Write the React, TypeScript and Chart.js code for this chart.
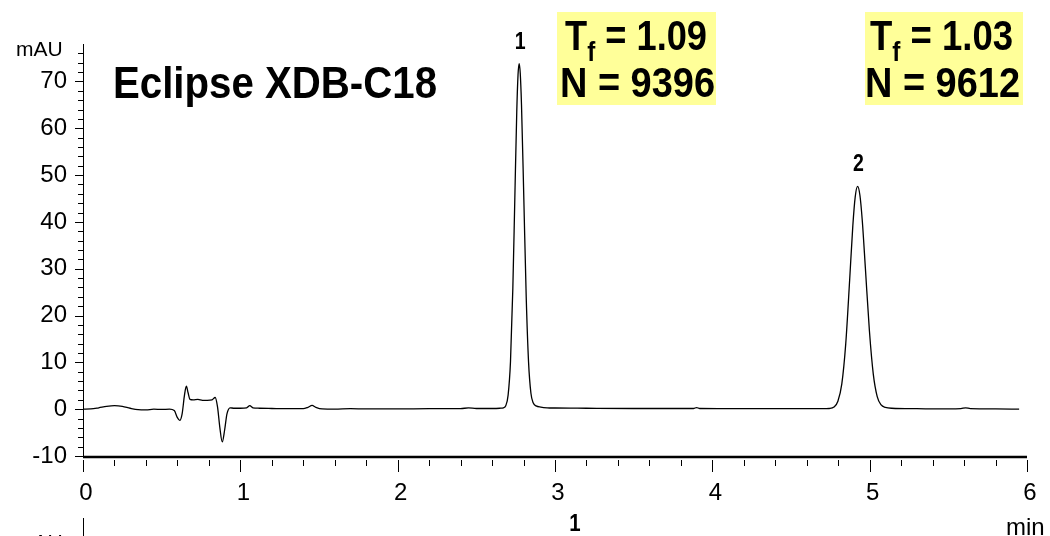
import React, { useEffect, useRef } from "react";
import { Chart, registerables } from "chart.js";

Chart.register(...registerables);

// ---- Data ----
const times: number[] = [
  0.0, 0.05, 0.1, 0.15, 0.2, 0.25, 0.3, 0.35, 0.4, 0.45, 0.5, 0.55,
  0.58, 0.6, 0.615, 0.63, 0.645, 0.657, 0.668, 0.68, 0.7, 0.73, 0.76, 0.79, 0.82, 0.84,
  0.855, 0.87, 0.885, 0.9, 0.915, 0.935, 0.96, 1.0, 1.04, 1.06, 1.08, 1.12, 1.2, 1.3, 1.4,
  1.43, 1.456, 1.48, 1.52, 1.6, 1.7, 1.8, 2.0, 2.2, 2.4, 2.45, 2.5, 2.6, 2.65,
  2.672, 2.687, 2.702, 2.717, 2.732, 2.7445, 2.757, 2.765, 2.772, 2.779, 2.787, 2.802,
  2.817, 2.832, 2.847, 2.862, 2.88, 2.91, 2.95, 3.0, 3.2, 3.5, 3.8, 3.88, 3.9, 3.92,
  4.2, 4.5, 4.7, 4.743, 4.773, 4.798, 4.823, 4.848, 4.873, 4.893, 4.908, 4.923, 4.938,
  4.953, 4.973, 4.998, 5.023, 5.048, 5.073, 5.1, 5.14, 5.3, 5.5, 5.58, 5.61, 5.64, 5.8, 5.95,
];
const signal: number[] = [
  0.0, 0.05, 0.3, 0.6, 0.75, 0.6, 0.2, -0.1, -0.15, 0.0, -0.05, 0.0,
  -0.3, -1.8, -2.4, -1.0, 3.0, 4.9, 3.5, 2.1, 2.0, 2.1, 1.9, 1.9, 2.0, 2.5,
  0.5, -4.0, -7.0, -4.5, -1.0, 0.3, 0.2, 0.2, 0.3, 0.75, 0.3, 0.2, 0.15, 0.1, 0.1,
  0.4, 0.8, 0.4, 0.05, 0.0, 0.1, 0.05, 0.05, 0.1, 0.1, 0.3, 0.15, 0.15, 0.2,
  0.3, 0.75, 3.0, 10.1, 25.8, 44.8, 63.6, 71.4, 73.8, 71.8, 65.1, 44.8,
  24.0, 10.0, 3.4, 1.3, 0.7, 0.45, 0.3, 0.25, 0.2, 0.15, 0.15, 0.15, 0.35, 0.15,
  0.1, 0.1, 0.1, 0.15, 0.45, 1.7, 5.4, 14.0, 27.7, 39.2, 45.3, 47.6, 45.7,
  40.3, 30.0, 16.9, 7.5, 2.7, 0.9, 0.4, 0.2, 0.1, 0.05, 0.1, 0.3, 0.1, 0.05, 0.0,
];

const peakLabels: string[] = ["1", "2"];
const peakTimes: number[] = [2.772, 4.923];
const peakHeights: number[] = [73.8, 47.6];

const tfValues: string[] = ["1.09", "1.03"];
const nValues: string[] = ["9396", "9612"];

const xTickLabels: number[] = [0, 1, 2, 3, 4, 5, 6];
const yTickLabels: number[] = [-10, 0, 10, 20, 30, 40, 50, 60, 70];

const title = "Eclipse XDB-C18";
const yUnit = "mAU";
const xUnit = "min";

const X_MIN = 0, X_MAX = 6, Y_MIN = -10, Y_MAX = 78;

const SANS = "'Liberation Sans', Arial, sans-serif";

function fitText(ctx: CanvasRenderingContext2D, text: string, font: string, x0: number, x1: number, baseline: number) {
  ctx.save();
  ctx.font = font;
  ctx.textAlign = "left";
  ctx.textBaseline = "alphabetic";
  const w = ctx.measureText(text).width;
  const s = (x1 - x0) / w;
  ctx.translate(x0, baseline);
  ctx.scale(s, 1);
  ctx.fillText(text, 0, 0);
  ctx.restore();
}

function drawTf(ctx: CanvasRenderingContext2D, value: string, x0: number, x1: number, baseline: number) {
  const big = `bold 42px ${SANS}`;
  const small = `bold 28px ${SANS}`;
  ctx.save();
  ctx.textAlign = "left";
  ctx.textBaseline = "alphabetic";
  ctx.font = big;
  const wT = ctx.measureText("T").width;
  const rest = " = " + value;
  const wR = ctx.measureText(rest).width;
  ctx.font = small;
  const wf = ctx.measureText("f").width;
  const s = (x1 - x0) / (wT + wf + wR);
  ctx.translate(x0, baseline);
  ctx.scale(s, 1);
  ctx.font = big;
  ctx.fillText("T", 0, 0);
  ctx.font = small;
  ctx.fillText("f", wT, 11);
  ctx.font = big;
  ctx.fillText(rest, wT + wf, 0);
  ctx.restore();
}

const overlayPlugin = {
  id: "overlay",
  afterDraw(chart: any) {
    const ctx: CanvasRenderingContext2D = chart.ctx;
    const xs = chart.scales.x;
    const ys = chart.scales.y;
    const a = chart.chartArea;
    ctx.save();
    ctx.strokeStyle = "#000";
    ctx.fillStyle = "#000";

    // y axis line
    ctx.lineWidth = 1;
    ctx.beginPath();
    ctx.moveTo(a.left + 0.5, a.top);
    ctx.lineTo(a.left + 0.5, a.bottom);
    ctx.stroke();
    // y ticks
    ctx.beginPath();
    for (let v = Y_MIN; v < Y_MAX - 1; v += 2) {
      const y = Math.round(ys.getPixelForValue(v)) + 0.5;
      const major = v % 10 === 0;
      ctx.moveTo(a.left - (major ? 8 : 5), y);
      ctx.lineTo(a.left, y);
    }
    ctx.stroke();

    // x axis line
    ctx.lineWidth = 2.5;
    ctx.beginPath();
    ctx.moveTo(a.left, a.bottom + 1);
    ctx.lineTo(a.right, a.bottom + 1);
    ctx.stroke();
    // x ticks
    ctx.lineWidth = 1;
    ctx.beginPath();
    for (let i = 0; i <= 30; i++) {
      const t = i * 0.2;
      const x = Math.round(xs.getPixelForValue(t)) + 0.5;
      const major = i % 5 === 0;
      ctx.moveTo(x, a.bottom + 4);
      ctx.lineTo(x, a.bottom + (major ? 16 : 10));
    }
    ctx.stroke();

    // unit labels
    ctx.font = `21px ${SANS}`;
    ctx.textAlign = "left";
    ctx.textBaseline = "alphabetic";
    ctx.fillText(yUnit, 16, 56);
    ctx.font = `24px ${SANS}`;
    ctx.fillText(xUnit, 1006, 535);

    // title
    fitText(ctx, title, `bold 45px ${SANS}`, 113, 437, 98);

    // yellow boxes
    const boxes = [
      { x0: 557, x1: 716, tf: [565, 707], n: [560, 715] },
      { x0: 865, x1: 1023, tf: [870, 1013], n: [865, 1020] },
    ];
    boxes.forEach((b, i) => {
      ctx.fillStyle = "#FFFF99";
      ctx.fillRect(b.x0, 12, b.x1 - b.x0, 93);
      ctx.fillStyle = "#000";
      drawTf(ctx, tfValues[i], b.tf[0], b.tf[1], 50);
      fitText(ctx, "N = " + nValues[i], `bold 42px ${SANS}`, b.n[0], b.n[1], 97);
    });

    // peak labels
    ctx.fillStyle = "#000";
    peakLabels.forEach((lab, i) => {
      const px = xs.getPixelForValue(peakTimes[i]);
      const py = ys.getPixelForValue(peakHeights[i]);
      ctx.save();
      ctx.font = `bold 23px ${SANS}`;
      ctx.textAlign = "center";
      ctx.textBaseline = "alphabetic";
      ctx.translate(px + 1, py - 15);
      ctx.scale(0.85, 1);
      ctx.fillText(lab, 0, 0);
      ctx.restore();
    });

    // next panel (cut off at bottom)
    ctx.save();
    ctx.font = `bold 24px ${SANS}`;
    ctx.textAlign = "center";
    ctx.translate(575, 531);
    ctx.scale(0.85, 1);
    ctx.fillText("1", 0, 0);
    ctx.restore();
    ctx.font = `21px ${SANS}`;
    ctx.textAlign = "left";
    ctx.fillText(yUnit, 16, 549);
    ctx.lineWidth = 1;
    ctx.beginPath();
    ctx.moveTo(a.left + 0.5, 518);
    ctx.lineTo(a.left + 0.5, 536);
    ctx.stroke();

    ctx.restore();
  },
};

export default function App() {
  const ref = useRef<HTMLCanvasElement | null>(null);
  useEffect(() => {
    if (!ref.current) return;
    const chart = new Chart(ref.current, {
      type: "line",
      data: {
        datasets: [
          {
            data: times.map((t, i) => ({ x: t, y: signal[i] })),
            borderColor: "#000",
            borderWidth: 1.3,
            pointRadius: 0,
            fill: false,
            cubicInterpolationMode: "monotone",
          },
        ],
      },
      options: {
        animation: false,
        responsive: false,
        maintainAspectRatio: false,
        layout: { padding: { left: 0, right: 23, top: 44, bottom: 0 } },
        plugins: { legend: { display: false }, tooltip: { enabled: false } },
        scales: {
          x: {
            type: "linear",
            min: X_MIN,
            max: X_MAX,
            grid: { display: false, drawTicks: false },
            border: { display: false },
            afterBuildTicks: (s: any) => {
              s.ticks = xTickLabels.map((v) => ({ value: v }));
            },
            afterFit: (s: any) => {
              s.height = 80;
              s.paddingLeft = 0;
              s.paddingRight = 0;
            },
            ticks: {
              color: "#000",
              font: { family: SANS, size: 24 },
              padding: 23,
              labelOffset: 3,
              maxRotation: 0,
              autoSkip: false,
            },
          },
          y: {
            type: "linear",
            min: Y_MIN,
            max: Y_MAX,
            grid: { display: false, drawTicks: false },
            border: { display: false },
            afterBuildTicks: (s: any) => {
              s.ticks = yTickLabels.map((v) => ({ value: v }));
            },
            afterFit: (s: any) => {
              s.width = 83;
              s.paddingTop = 0;
              s.paddingBottom = 0;
            },
            ticks: {
              color: "#000",
              font: { family: SANS, size: 24 },
              padding: 16,
              autoSkip: false,
            },
          },
        },
      } as any,
      plugins: [overlayPlugin],
    });
    return () => chart.destroy();
  }, []);
  return (
    <div style={{ position: "absolute", left: 0, top: 0, width: 1050, height: 536, background: "#fff" }}>
      <canvas ref={ref} width={1050} height={536} style={{ display: "block" }} />
    </div>
  );
}
